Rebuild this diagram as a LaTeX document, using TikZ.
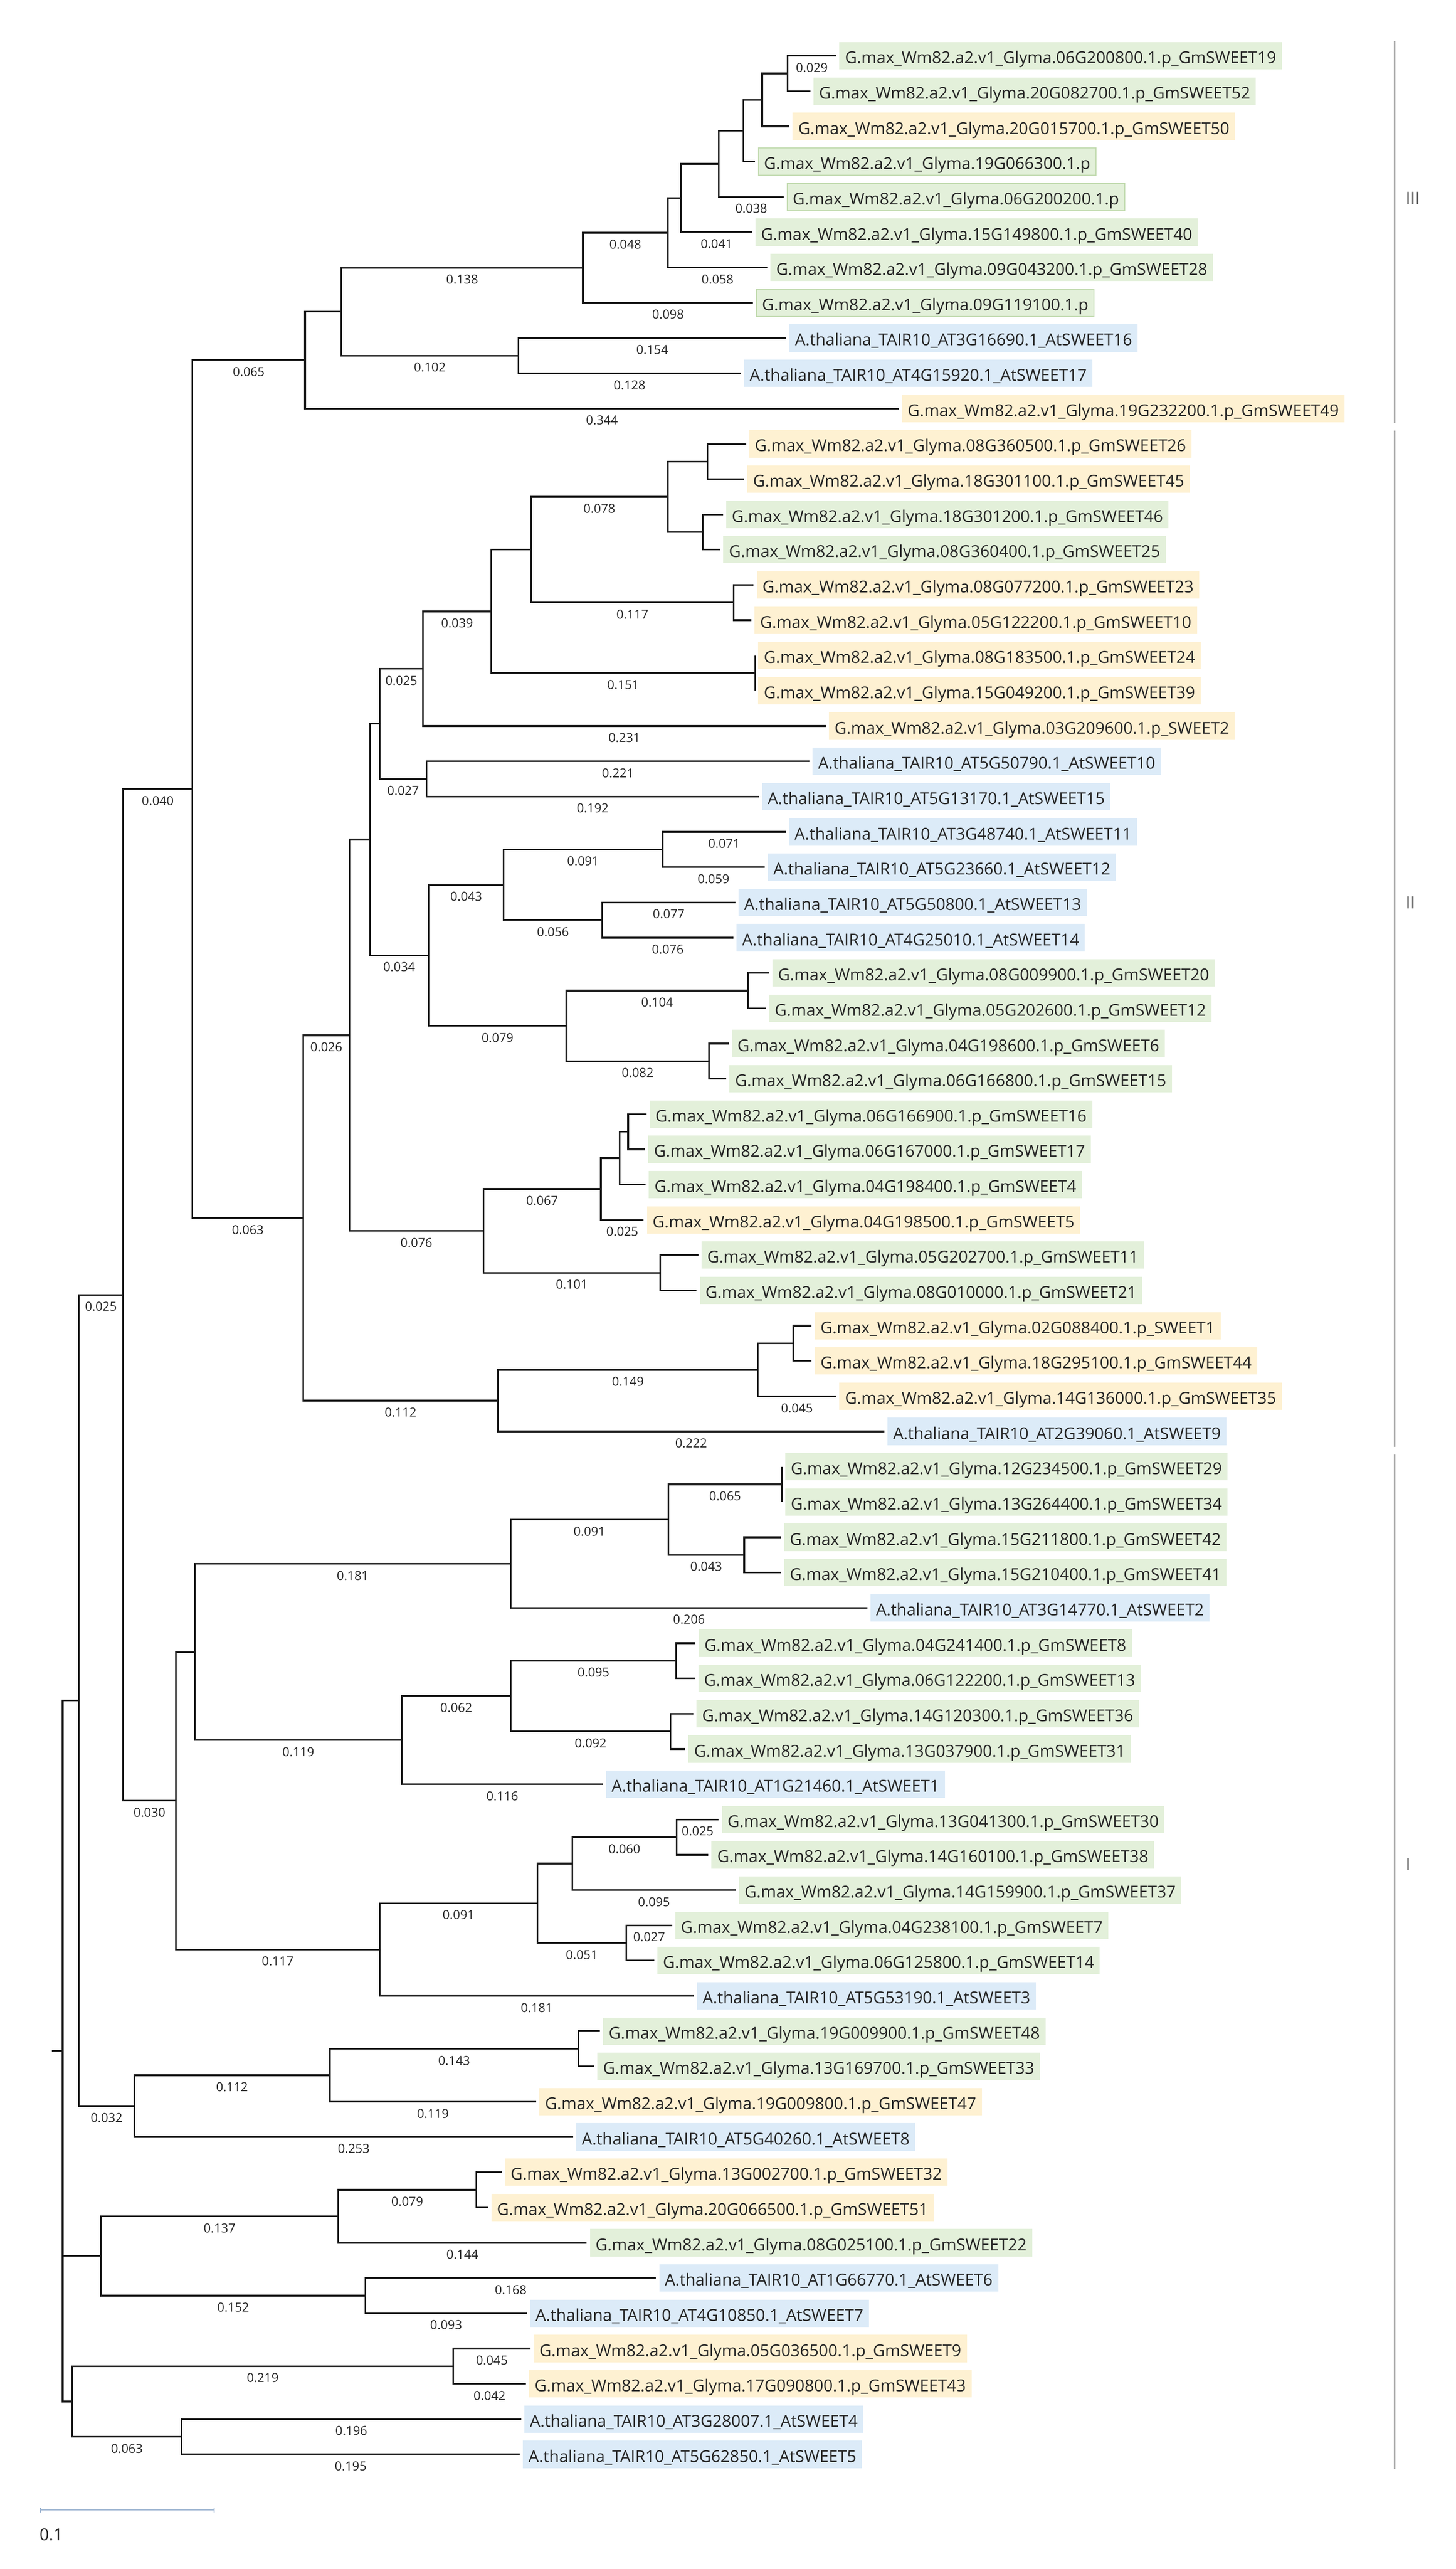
\documentclass[tikz,border=0pt]{standalone}
\usepackage{fontspec}
\newfontfamily\osans{Open Sans}
\definecolor{cg}{HTML}{E3F0DA}
\definecolor{co}{HTML}{FEF1D2}
\definecolor{cb}{HTML}{DCEBF8}
\definecolor{cgb}{HTML}{C4DCB2}
\definecolor{txt}{HTML}{262626}
\definecolor{barc}{HTML}{A6A6A6}
\definecolor{scc}{HTML}{9FB6D2}
\tikzset{
 branch/.style={draw=black!90, line width=0.9pt},
 blab/.style={pos=0.75, yshift=-6.25pt, inner sep=0pt, text=txt, font=\osans\fontsize{6.6}{7}\selectfont},
 lbox/.style={anchor=west, minimum height=14.5pt, inner xsep=3pt, inner ysep=0pt, text height=8.4pt, text depth=0.2pt, text=txt, font=\osans\fontsize{8.7}{10}\selectfont},
 gbox/.style={lbox, fill=cg},
 gboxb/.style={lbox, fill=cg, draw=cgb, line width=0.5pt},
 obox/.style={lbox, fill=co},
 bbox/.style={lbox, fill=cb},
 cladebar/.style={draw=barc, line width=0.8pt},
 cladelab/.style={anchor=west, text=black!65, inner sep=0pt, font=\osans\fontsize{9}{10}\selectfont},
}
\newcommand\GMX[1]{G.max\_Wm82.a2.v1\_Glyma.#1}
\newcommand\ATX[1]{A.thaliana\_TAIR10\_#1}
\newcommand\leaf[4]{\coordinate (l#1) at (#2,#1); \node[#3] (t#1) at ([xshift=1.5pt]l#1) {#4};}
\newcommand\eb[2]{\draw[branch] (#1) |- (#2);}
\newcommand\el[3]{\draw[branch] (#1) |- (#2) node[blab]{#3};}
\begin{document}
\begin{tikzpicture}[x=0.25pt, y=-18.69pt]
\useasboundingbox (0,-0.5837) rectangle (3087,72.25);
% leaves
\leaf{1}{1773}{gbox}{\GMX{06G200800.1.p\_GmSWEET19}}
\leaf{2}{1718}{gbox}{\GMX{20G082700.1.p\_GmSWEET52}}
\leaf{3}{1674}{obox}{\GMX{20G015700.1.p\_GmSWEET50}}
\leaf{4}{1601}{gboxb}{\GMX{19G066300.1.p}}
\leaf{5}{1662}{gboxb}{\GMX{06G200200.1.p}}
\leaf{6}{1595}{gbox}{\GMX{15G149800.1.p\_GmSWEET40}}
\leaf{7}{1627}{gbox}{\GMX{09G043200.1.p\_GmSWEET28}}
\leaf{8}{1597}{gboxb}{\GMX{09G119100.1.p}}
\leaf{9}{1667}{bbox}{\ATX{AT3G16690.1\_AtSWEET16}}
\leaf{10}{1571}{bbox}{\ATX{AT4G15920.1\_AtSWEET17}}
\leaf{11}{1906}{obox}{\GMX{19G232200.1.p\_GmSWEET49}}
\leaf{12}{1582}{obox}{\GMX{08G360500.1.p\_GmSWEET26}}
\leaf{13}{1578}{obox}{\GMX{18G301100.1.p\_GmSWEET45}}
\leaf{14}{1533}{gbox}{\GMX{18G301200.1.p\_GmSWEET46}}
\leaf{15}{1527}{gbox}{\GMX{08G360400.1.p\_GmSWEET25}}
\leaf{16}{1598}{obox}{\GMX{08G077200.1.p\_GmSWEET23}}
\leaf{17}{1593}{obox}{\GMX{05G122200.1.p\_GmSWEET10}}
\leaf{18}{1601}{obox}{\GMX{08G183500.1.p\_GmSWEET24}}
\leaf{19}{1601}{obox}{\GMX{15G049200.1.p\_GmSWEET39}}
\leaf{20}{1751}{obox}{\GMX{03G209600.1.p\_SWEET2}}
\leaf{21}{1716}{bbox}{\ATX{AT5G50790.1\_AtSWEET10}}
\leaf{22}{1609}{bbox}{\ATX{AT5G13170.1\_AtSWEET15}}
\leaf{23}{1666}{bbox}{\ATX{AT3G48740.1\_AtSWEET11}}
\leaf{24}{1621}{bbox}{\ATX{AT5G23660.1\_AtSWEET12}}
\leaf{25}{1559}{bbox}{\ATX{AT5G50800.1\_AtSWEET13}}
\leaf{26}{1555}{bbox}{\ATX{AT4G25010.1\_AtSWEET14}}
\leaf{27}{1631}{gbox}{\GMX{08G009900.1.p\_GmSWEET20}}
\leaf{28}{1624}{gbox}{\GMX{05G202600.1.p\_GmSWEET12}}
\leaf{29}{1545}{gbox}{\GMX{04G198600.1.p\_GmSWEET6}}
\leaf{30}{1540}{gbox}{\GMX{06G166800.1.p\_GmSWEET15}}
\leaf{31}{1371}{gbox}{\GMX{06G166900.1.p\_GmSWEET16}}
\leaf{32}{1368}{gbox}{\GMX{06G167000.1.p\_GmSWEET17}}
\leaf{33}{1369}{gbox}{\GMX{04G198400.1.p\_GmSWEET4}}
\leaf{34}{1365}{obox}{\GMX{04G198500.1.p\_GmSWEET5}}
\leaf{35}{1481}{gbox}{\GMX{05G202700.1.p\_GmSWEET11}}
\leaf{36}{1477}{gbox}{\GMX{08G010000.1.p\_GmSWEET21}}
\leaf{37}{1721}{obox}{\GMX{02G088400.1.p\_SWEET1}}
\leaf{38}{1721}{obox}{\GMX{18G295100.1.p\_GmSWEET44}}
\leaf{39}{1773}{obox}{\GMX{14G136000.1.p\_GmSWEET35}}
\leaf{40}{1875}{bbox}{\ATX{AT2G39060.1\_AtSWEET9}}
\leaf{41}{1658}{gbox}{\GMX{12G234500.1.p\_GmSWEET29}}
\leaf{42}{1658}{gbox}{\GMX{13G264400.1.p\_GmSWEET34}}
\leaf{43}{1656}{gbox}{\GMX{15G211800.1.p\_GmSWEET42}}
\leaf{44}{1656}{gbox}{\GMX{15G210400.1.p\_GmSWEET41}}
\leaf{45}{1839}{bbox}{\ATX{AT3G14770.1\_AtSWEET2}}
\leaf{46}{1475}{gbox}{\GMX{04G241400.1.p\_GmSWEET8}}
\leaf{47}{1474}{gbox}{\GMX{06G122200.1.p\_GmSWEET13}}
\leaf{48}{1470}{gbox}{\GMX{14G120300.1.p\_GmSWEET36}}
\leaf{49}{1453}{gbox}{\GMX{13G037900.1.p\_GmSWEET31}}
\leaf{50}{1278}{bbox}{\ATX{AT1G21460.1\_AtSWEET1}}
\leaf{51}{1524}{gbox}{\GMX{13G041300.1.p\_GmSWEET30}}
\leaf{52}{1502}{gbox}{\GMX{14G160100.1.p\_GmSWEET38}}
\leaf{53}{1560}{gbox}{\GMX{14G159900.1.p\_GmSWEET37}}
\leaf{54}{1425}{gbox}{\GMX{04G238100.1.p\_GmSWEET7}}
\leaf{55}{1387}{gbox}{\GMX{06G125800.1.p\_GmSWEET14}}
\leaf{56}{1471}{bbox}{\ATX{AT5G53190.1\_AtSWEET3}}
\leaf{57}{1272}{gbox}{\GMX{19G009900.1.p\_GmSWEET48}}
\leaf{58}{1260}{gbox}{\GMX{13G169700.1.p\_GmSWEET33}}
\leaf{59}{1137}{obox}{\GMX{19G009800.1.p\_GmSWEET47}}
\leaf{60}{1215}{bbox}{\ATX{AT5G40260.1\_AtSWEET8}}
\leaf{61}{1064}{obox}{\GMX{13G002700.1.p\_GmSWEET32}}
\leaf{62}{1035}{obox}{\GMX{20G066500.1.p\_GmSWEET51}}
\leaf{63}{1244}{gbox}{\GMX{08G025100.1.p\_GmSWEET22}}
\leaf{64}{1391}{bbox}{\ATX{AT1G66770.1\_AtSWEET6}}
\leaf{65}{1117}{bbox}{\ATX{AT4G10850.1\_AtSWEET7}}
\leaf{66}{1125}{obox}{\GMX{05G036500.1.p\_GmSWEET9}}
\leaf{67}{1115}{obox}{\GMX{17G090800.1.p\_GmSWEET43}}
\leaf{68}{1105}{bbox}{\ATX{AT3G28007.1\_AtSWEET4}}
\leaf{69}{1102}{bbox}{\ATX{AT5G62850.1\_AtSWEET5}}
% internal nodes
\coordinate (N3j) at (1670,1.5);
\coordinate (N3i) at (1616,2.25);
\coordinate (N3h) at (1576,3.125);
\coordinate (N3g) at (1524,4.0625);
\coordinate (N3f) at (1444,5.03125);
\coordinate (N3d) at (1416,6.015625);
\coordinate (N3b) at (1236,7.0078);
\coordinate (N3c) at (1099,9.5);
\coordinate (N3a) at (724,8.2539);
\coordinate (N3) at (647,9.627);
\coordinate (L12) at (1500,12.5);
\coordinate (L14) at (1490,14.5);
\coordinate (L1215) at (1416,13.5);
\coordinate (L16) at (1556,16.5);
\coordinate (L1217) at (1126,15);
\coordinate (L18) at (1601,18.5);
\coordinate (Q) at (1041.5,16.75);
\coordinate (P) at (897,18.375);
\coordinate (S) at (904.5,21.5);
\coordinate (R2) at (805,19.9375);
\coordinate (U1a) at (1405,23.5);
\coordinate (U1b) at (1277,25.5);
\coordinate (U1) at (1068,24.5);
\coordinate (U2a) at (1586,27.5);
\coordinate (U2b) at (1503,29.5);
\coordinate (U2) at (1201,28.5);
\coordinate (U) at (909,26.5);
\coordinate (T) at (784,23.21875);
\coordinate (W1b) at (1332,31.5);
\coordinate (W1a) at (1314,32.25);
\coordinate (W1) at (1274,33.125);
\coordinate (W2) at (1400,35.5);
\coordinate (W) at (1025,34.3125);
\coordinate (N2a) at (741,28.765625);
\coordinate (N2x) at (1682,37.5);
\coordinate (N2y) at (1607,38.25);
\coordinate (N2z) at (1056,39.125);
\coordinate (N2) at (643,33.9453);
\coordinate (C) at (408,21.786);
\coordinate (E1d) at (1658,41.5);
\coordinate (E1e) at (1578,43.5);
\coordinate (E1c) at (1417,42.5);
\coordinate (E1a) at (1083,43.75);
\coordinate (E1g) at (1434,46.5);
\coordinate (E1h) at (1422,48.5);
\coordinate (E1f) at (1083,47.5);
\coordinate (E1b) at (852,48.75);
\coordinate (E1) at (413,46.25);
\coordinate (E2d) at (1434.5,51.5);
\coordinate (E2b) at (1213.5,52.25);
\coordinate (E2c) at (1328,54.5);
\coordinate (E2a) at (1139.5,53.375);
\coordinate (E2) at (805,54.6875);
\coordinate (E) at (373,50.46875);
\coordinate (B) at (261,36.127);
\coordinate (D2) at (1227,57.5);
\coordinate (D1) at (699,58.25);
\coordinate (D) at (285,59.125);
\coordinate (A) at (167,47.626);
\coordinate (G6c) at (1010,61.5);
\coordinate (G6a) at (717,62.25);
\coordinate (G6b) at (775,64.5);
\coordinate (G6) at (214,63.375);
\coordinate (G8a) at (961,66.5);
\coordinate (G8b) at (385,68.5);
\coordinate (G8) at (153,67.5);
\coordinate (R) at (133,57.563);
\coordinate (R0) at (110,57.563);
% clade III
\eb{N3j}{l2} \el{N3j}{l1}{0.029}
\eb{N3i}{N3j} \eb{N3i}{l3}
\eb{N3h}{N3i} \eb{N3h}{l4}
\eb{N3g}{N3h} \el{N3g}{l5}{0.038}
\eb{N3f}{N3g} \el{N3f}{l6}{0.041}
\eb{N3d}{N3f} \el{N3d}{l7}{0.058}
\el{N3b}{N3d}{0.048} \el{N3b}{l8}{0.098}
\el{N3c}{l9}{0.154} \el{N3c}{l10}{0.128}
\el{N3a}{N3b}{0.138} \el{N3a}{N3c}{0.102}
\eb{N3}{N3a} \el{N3}{l11}{0.344}
% clade II
\eb{L12}{l12} \eb{L12}{l13} \eb{L14}{l14} \eb{L14}{l15}
\eb{L1215}{L12} \eb{L1215}{L14}
\eb{L16}{l16} \eb{L16}{l17}
\el{L1217}{L1215}{0.078} \el{L1217}{L16}{0.117}
\eb{L18}{l18} \eb{L18}{l19}
\eb{Q}{L1217} \el{Q}{L18}{0.151}
\el{P}{Q}{0.039} \el{P}{l20}{0.231}
\el{S}{l21}{0.221} \el{S}{l22}{0.192}
\el{R2}{P}{0.025} \el{R2}{S}{0.027}
\el{U1a}{l23}{0.071} \el{U1a}{l24}{0.059}
\el{U1b}{l25}{0.077} \el{U1b}{l26}{0.076}
\el{U1}{U1a}{0.091} \el{U1}{U1b}{0.056}
\eb{U2a}{l27} \eb{U2a}{l28} \eb{U2b}{l29} \eb{U2b}{l30}
\el{U2}{U2a}{0.104} \el{U2}{U2b}{0.082}
\el{U}{U1}{0.043} \el{U}{U2}{0.079}
\eb{T}{R2} \el{T}{U}{0.034}
\eb{W1b}{l31} \eb{W1b}{l32}
\eb{W1a}{W1b} \eb{W1a}{l33}
\eb{W1}{W1a} \el{W1}{l34}{0.025}
\eb{W2}{l35} \eb{W2}{l36}
\el{W}{W1}{0.067} \el{W}{W2}{0.101}
\eb{N2a}{T} \el{N2a}{W}{0.076}
\eb{N2x}{l37} \eb{N2x}{l38}
\eb{N2y}{N2x} \el{N2y}{l39}{0.045}
\el{N2z}{N2y}{0.149} \el{N2z}{l40}{0.222}
\el{N2}{N2a}{0.026} \el{N2}{N2z}{0.112}
\el{C}{N3}{0.065} \el{C}{N2}{0.063}
% clade I
\eb{E1d}{l41} \eb{E1d}{l42}
\eb{E1e}{l43} \eb{E1e}{l44}
\el{E1c}{E1d}{0.065} \el{E1c}{E1e}{0.043}
\el{E1a}{E1c}{0.091} \el{E1a}{l45}{0.206}
\eb{E1g}{l46} \eb{E1g}{l47} \eb{E1h}{l48} \eb{E1h}{l49}
\el{E1f}{E1g}{0.095} \el{E1f}{E1h}{0.092}
\el{E1b}{E1f}{0.062} \el{E1b}{l50}{0.116}
\el{E1}{E1a}{0.181} \el{E1}{E1b}{0.119}
\el{E2d}{l51}{0.025} \eb{E2d}{l52}
\el{E2b}{E2d}{0.060} \el{E2b}{l53}{0.095}
\el{E2c}{l54}{0.027} \eb{E2c}{l55}
\eb{E2a}{E2b} \el{E2a}{E2c}{0.051}
\el{E2}{E2a}{0.091} \el{E2}{l56}{0.181}
\eb{E}{E1} \el{E}{E2}{0.117}
\el{B}{C}{0.040} \el{B}{E}{0.030}
% lower clades
\eb{D2}{l57} \eb{D2}{l58}
\el{D1}{D2}{0.143} \el{D1}{l59}{0.119}
\el{D}{D1}{0.112} \el{D}{l60}{0.253}
\el{A}{B}{0.025} \el{A}{D}{0.032}
\eb{G6c}{l61} \eb{G6c}{l62}
\el{G6a}{G6c}{0.079} \el{G6a}{l63}{0.144}
\el{G6b}{l64}{0.168} \el{G6b}{l65}{0.093}
\el{G6}{G6a}{0.137} \el{G6}{G6b}{0.152}
\el{G8a}{l66}{0.045} \el{G8a}{l67}{0.042}
\el{G8b}{l68}{0.196} \el{G8b}{l69}{0.195}
\el{G8}{G8a}{0.219} \el{G8}{G8b}{0.063}
\eb{R}{A} \eb{R}{G6} \eb{R}{G8}
\draw[branch] (R0) -- (R);
% clade bars
\coordinate (b3t) at (2957,0.58); \coordinate (b3b) at (2957,11.40);
\coordinate (b2t) at (2957,11.63); \coordinate (b2b) at (2957,40.43);
\coordinate (b1t) at (2957,40.66); \coordinate (b1b) at (2957,69.41);
\draw[cladebar] (b3t) -- (b3b);
\draw[cladebar] (b2t) -- (b2b);
\draw[cladebar] (b1t) -- (b1b);
\node[cladelab] (c3) at (2980,5.03) {III};
\node[cladelab] (c2) at (2980,25.0) {II};
\node[cladelab] (c1) at (2980,52.27) {I};
% scale bar
\coordinate (s1) at (86,70.58); \coordinate (s2) at (454,70.58);
\draw[scc, line width=0.5pt] (s1) -- (s2);
\draw[scc, line width=0.5pt] ([yshift=1.2pt]s1) -- ([yshift=-1.2pt]s1);
\draw[scc, line width=0.5pt] ([yshift=1.2pt]s2) -- ([yshift=-1.2pt]s2);
\node[text=txt, inner sep=0pt, font=\osans\fontsize{8.7}{10}\selectfont] (sl) at (108.5,71.27) {0.1};
\end{tikzpicture}
\end{document}
